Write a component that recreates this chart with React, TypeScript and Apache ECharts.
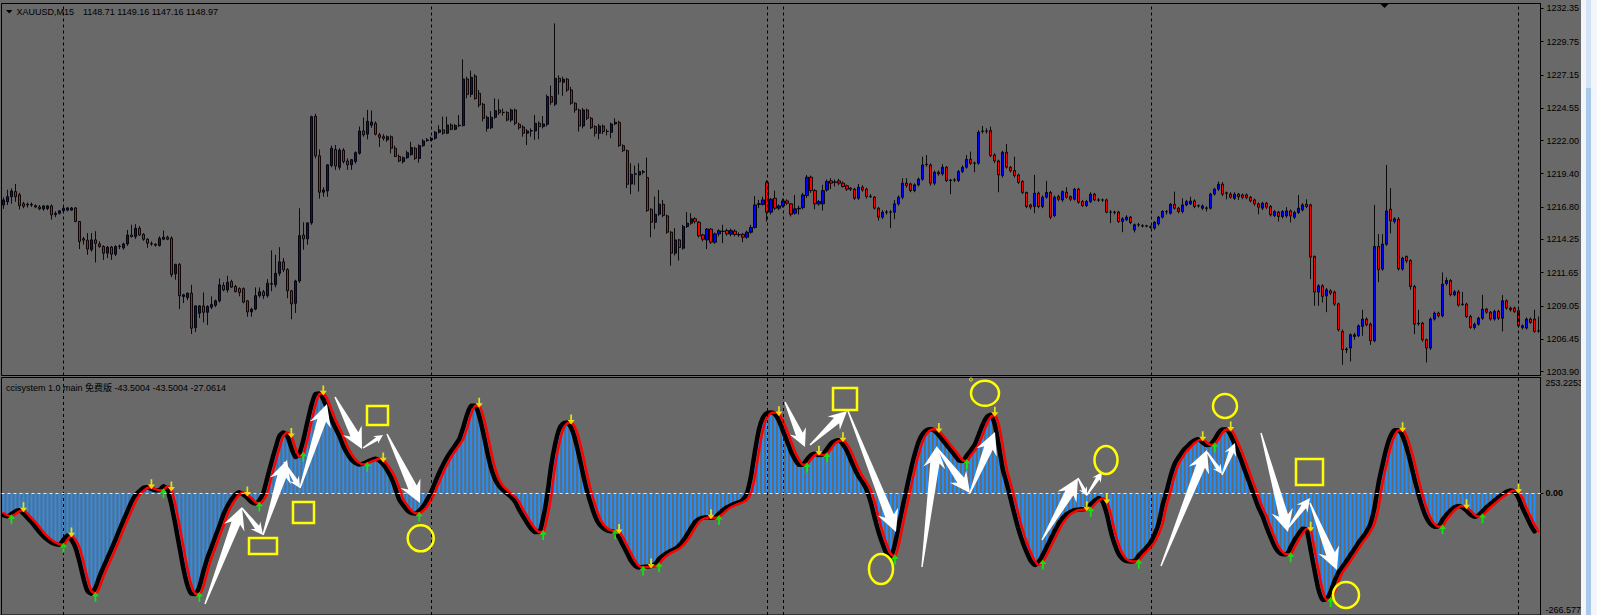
import React, { useEffect, useRef } from "react";
import * as echarts from "echarts";

// [open, high, low, close] per M15 bar
const candles: number[][] = [
  [1216.95,1217.55,1216.65,1217.35],[1217.2,1218.15,1216.95,1217.6],[1217.6,1218.25,1217.05,1218.05],[1218.0,1218.6,1217.2,1217.6],[1217.75,1217.9,1216.6,1216.9],
  [1217.05,1217.2,1216.7,1216.85],[1216.95,1217.15,1216.75,1217.0],[1217.0,1217.15,1216.8,1216.95],[1216.9,1217.0,1216.7,1216.8],[1216.8,1216.95,1216.55,1216.65],
  [1216.65,1216.95,1216.5,1216.88],[1216.68,1216.95,1216.55,1216.88],[1216.88,1217.0,1215.8,1216.18],[1216.2,1216.45,1216.0,1216.3],[1216.3,1216.55,1216.2,1216.5],
  [1216.5,1216.8,1216.4,1216.7],[1216.55,1216.8,1216.45,1216.72],[1216.55,1216.8,1216.5,1216.72],[1216.72,1216.8,1215.6,1215.66],[1215.66,1215.7,1213.5,1214.1],
  [1214.3,1214.45,1213.85,1214.2],[1214.2,1214.75,1213.05,1213.5],[1213.45,1214.75,1213.3,1214.22],[1214.22,1214.9,1212.45,1213.95],[1213.9,1214.1,1213.6,1213.7],
  [1213.7,1213.8,1212.65,1213.18],[1213.18,1213.75,1212.8,1213.65],[1213.65,1213.75,1212.65,1213.1],[1213.1,1213.8,1212.95,1213.7],[1213.7,1213.85,1213.5,1213.72],
  [1213.6,1214.0,1213.45,1213.9],[1213.9,1215.0,1213.75,1214.6],[1214.6,1215.4,1214.4,1214.48],[1214.48,1215.45,1214.3,1215.13],[1215.13,1215.3,1214.55,1214.6],
  [1214.65,1214.75,1214.15,1214.27],[1214.27,1214.35,1213.6,1213.96],[1213.93,1214.1,1213.75,1213.9],[1213.88,1213.95,1213.7,1213.8],[1213.78,1214.5,1213.7,1214.35],
  [1214.27,1214.95,1214.2,1214.43],[1214.43,1214.55,1214.2,1214.27],[1214.35,1214.5,1211.3,1211.5],[1211.56,1212.35,1211.1,1212.3],[1212.3,1212.4,1208.8,1209.85],
  [1209.78,1210.0,1209.27,1209.92],[1209.7,1210.1,1209.5,1210.05],[1210.05,1210.7,1206.85,1207.3],[1207.35,1209.1,1207.0,1209.05],[1208.48,1209.1,1208.1,1209.05],
  [1209.05,1210.1,1207.75,1208.55],[1208.55,1209.1,1207.55,1209.0],[1208.95,1209.8,1208.8,1209.15],[1209.1,1209.55,1208.95,1209.45],[1209.45,1211.2,1209.3,1210.7],
  [1210.65,1210.9,1210.2,1210.3],[1210.3,1211.4,1210.1,1210.9],[1210.95,1211.1,1210.45,1210.52],[1210.57,1210.7,1210.1,1210.18],[1210.4,1210.5,1209.8,1210.1],
  [1210.4,1210.5,1209.25,1209.35],[1209.45,1209.5,1208.2,1208.58],[1208.58,1208.9,1208.2,1208.8],[1208.8,1210.5,1208.7,1209.85],[1209.85,1210.5,1209.7,1210.15],
  [1210.15,1210.3,1209.6,1209.85],[1209.85,1211.15,1209.7,1210.83],[1210.8,1213.4,1210.2,1210.75],[1210.7,1213.05,1210.5,1211.6],[1211.6,1213.65,1211.4,1212.5],
  [1212.5,1212.8,1211.7,1211.88],[1211.9,1212.0,1209.65,1210.23],[1210.23,1210.3,1208.0,1209.2],[1209.25,1211.1,1208.5,1211.0],[1211.0,1216.7,1210.85,1214.55],
  [1214.6,1215.6,1213.45,1214.3],[1214.3,1215.6,1213.85,1215.55],[1215.55,1223.95,1215.4,1223.87],[1223.9,1224.1,1220.6,1220.8],[1220.8,1221.3,1217.45,1217.95],
  [1217.95,1218.35,1217.6,1218.13],[1218.05,1220.15,1217.6,1220.1],[1220.05,1221.6,1219.9,1221.4],[1221.3,1221.65,1219.7,1220.0],[1219.9,1221.4,1219.7,1221.25],
  [1221.25,1221.4,1220.2,1220.35],[1220.4,1220.6,1219.7,1220.1],[1220.1,1220.55,1219.7,1220.5],[1220.35,1221.15,1220.2,1221.05],[1221.0,1223.1,1220.9,1222.75],
  [1222.75,1223.8,1222.3,1222.45],[1222.5,1224.4,1222.1,1223.5],[1223.2,1224.35,1223.0,1223.45],[1223.35,1223.5,1222.4,1222.5],[1222.45,1222.6,1221.5,1222.25],
  [1222.3,1222.5,1222.0,1222.17],[1222.05,1222.4,1221.9,1222.3],[1222.3,1222.4,1221.0,1221.4],[1221.4,1221.6,1220.7,1220.75],[1220.75,1220.9,1220.3,1220.4],
  [1220.35,1220.75,1220.2,1220.66],[1220.66,1221.2,1220.55,1221.05],[1220.9,1221.9,1220.8,1221.45],[1221.4,1221.5,1220.48,1220.6],[1220.6,1221.7,1220.27,1221.6],
  [1221.6,1222.1,1221.5,1221.97],[1222.0,1222.2,1221.9,1222.05],[1222.05,1222.3,1221.95,1222.18],[1222.18,1222.75,1222.05,1222.65],[1222.65,1223.2,1222.55,1222.83],
  [1222.83,1223.87,1222.45,1222.57],[1222.57,1223.87,1222.5,1223.22],[1223.22,1223.35,1222.8,1222.88],[1222.88,1223.3,1222.8,1223.17],[1223.17,1224.0,1223.05,1223.2],
  [1223.17,1228.35,1223.1,1226.82],[1226.82,1227.0,1225.3,1225.62],[1225.62,1227.47,1225.4,1226.95],[1227.05,1227.2,1225.2,1225.28],[1225.7,1225.96,1224.6,1224.78],
  [1224.84,1224.95,1223.5,1223.74],[1222.96,1223.95,1222.7,1223.82],[1223.0,1224.3,1222.9,1223.82],[1223.82,1225.3,1223.7,1224.34],[1224.39,1225.23,1224.0,1224.18],
  [1224.2,1224.5,1223.95,1224.2],[1224.2,1224.3,1223.5,1223.6],[1223.6,1224.5,1223.45,1224.39],[1224.39,1224.5,1223.2,1223.35],[1223.27,1223.4,1222.85,1223.0],
  [1223.06,1223.2,1222.3,1222.57],[1222.57,1222.9,1221.65,1222.75],[1222.75,1222.95,1222.3,1222.77],[1222.75,1224.0,1222.05,1223.35],[1223.35,1223.5,1222.1,1223.09],
  [1223.09,1223.92,1222.95,1223.3],[1223.27,1225.6,1223.1,1225.44],[1225.44,1226.3,1224.8,1225.0],[1224.85,1231.17,1224.7,1226.87],[1226.87,1227.1,1225.6,1226.6],
  [1226.56,1227.0,1225.5,1226.8],[1226.8,1226.9,1225.8,1225.96],[1225.96,1226.2,1224.8,1224.92],[1224.92,1225.0,1224.18,1224.39],[1224.39,1224.5,1222.7,1223.14],
  [1223.14,1224.55,1222.95,1224.39],[1224.39,1224.5,1223.6,1223.74],[1223.74,1223.85,1222.9,1223.01],[1223.09,1223.2,1222.31,1222.57],[1222.57,1223.3,1222.1,1223.14],
  [1223.14,1223.25,1222.5,1222.7],[1222.7,1222.9,1222.4,1222.72],[1222.65,1223.4,1222.18,1223.3],[1223.3,1223.74,1223.2,1223.43],[1223.43,1223.55,1221.5,1221.6],
  [1221.6,1221.7,1221.1,1221.21],[1221.21,1221.3,1218.27,1218.58],[1218.6,1220.22,1217.8,1219.36],[1219.36,1220.04,1218.53,1219.4],[1219.3,1220.22,1218.0,1219.57],
  [1219.57,1219.7,1219.35,1219.52],[1219.1,1220.66,1216.4,1216.52],[1216.62,1216.7,1214.43,1215.6],[1215.6,1217.61,1215.06,1216.23],[1216.23,1218.13,1216.1,1217.01],
  [1217.01,1217.35,1216.0,1216.13],[1216.1,1216.2,1214.7,1214.82],[1214.82,1214.9,1212.2,1213.18],[1213.18,1215.14,1213.0,1214.22],[1214.22,1214.3,1212.6,1213.62],
  [1213.57,1215.4,1213.45,1215.27],[1215.27,1216.39,1215.15,1215.53],[1215.53,1216.31,1215.4,1215.87],[1215.87,1216.0,1215.5,1215.66],[1215.6,1215.7,1214.4,1214.54],
  [1214.61,1214.7,1214.1,1214.27],[1214.22,1215.15,1213.5,1215.06],[1215.06,1215.15,1213.9,1214.04],[1214.04,1214.8,1213.9,1214.69],[1214.69,1215.05,1214.5,1214.93],
  [1214.9,1215.4,1213.96,1214.88],[1214.95,1215.1,1214.55,1214.69],[1214.67,1215.1,1214.5,1214.95],[1214.9,1215.05,1214.5,1214.64],[1214.64,1214.8,1214.45,1214.62],
  [1214.66,1214.75,1214.04,1214.43],[1214.43,1214.95,1214.3,1214.82],[1214.82,1215.4,1214.7,1215.19],[1215.19,1217.66,1215.1,1216.96],[1217.0,1217.35,1216.7,1217.05],
  [1217.0,1217.6,1216.9,1217.35],[1218.73,1218.9,1215.66,1216.39],[1216.39,1217.5,1216.2,1217.4],[1217.48,1218.08,1216.55,1216.7],[1216.7,1217.0,1216.55,1216.88],
  [1216.88,1217.45,1216.75,1217.27],[1217.27,1217.4,1216.95,1217.09],[1217.04,1217.1,1216.05,1216.23],[1216.31,1217.74,1216.2,1216.65],[1216.65,1216.9,1216.2,1216.7],
  [1216.75,1217.9,1216.6,1217.74],[1217.69,1219.3,1217.5,1219.13],[1219.13,1219.25,1217.9,1218.08],[1218.08,1218.2,1216.62,1217.04],[1217.04,1217.35,1216.9,1217.22],
  [1217.04,1218.53,1216.52,1218.08],[1218.13,1218.95,1218.0,1218.79],[1218.84,1219.05,1218.2,1218.66],[1218.73,1218.95,1218.4,1218.75],[1218.84,1219.0,1218.5,1218.66],
  [1218.66,1218.8,1218.3,1218.4],[1218.45,1218.55,1218.05,1218.19],[1218.27,1218.35,1218.05,1218.19],[1218.19,1218.3,1217.35,1217.48],[1217.48,1218.6,1217.35,1218.34],
  [1218.34,1218.5,1218.0,1218.13],[1218.19,1218.3,1217.45,1217.61],[1217.63,1217.8,1217.5,1217.6],[1217.56,1217.65,1216.6,1216.7],[1216.7,1216.8,1215.74,1216.0],
  [1216.0,1216.55,1215.85,1216.39],[1216.39,1216.55,1216.2,1216.41],[1216.39,1216.55,1215.14,1216.4],[1216.39,1217.35,1215.84,1217.04],[1217.04,1217.7,1216.9,1217.56],
  [1217.56,1219.05,1217.4,1218.66],[1218.66,1219.05,1218.3,1218.47],[1218.6,1218.7,1217.95,1218.08],[1218.08,1218.65,1217.95,1218.53],[1218.53,1219.1,1218.4,1218.97],
  [1218.97,1220.74,1218.85,1220.09],[1220.12,1220.87,1219.95,1220.15],[1220.09,1220.2,1218.47,1218.66],[1218.66,1219.65,1218.5,1219.52],[1219.52,1219.65,1219.25,1219.39],
  [1219.39,1220.14,1219.25,1219.91],[1219.91,1220.0,1218.75,1218.87],[1218.87,1219.0,1217.8,1218.9],[1218.9,1219.05,1218.75,1218.92],[1218.87,1219.7,1218.75,1219.57],
  [1219.57,1220.05,1219.45,1219.91],[1219.91,1220.87,1219.8,1220.53],[1220.53,1221.13,1220.1,1220.22],[1220.22,1220.35,1219.52,1220.24],[1220.22,1222.8,1220.1,1222.65],
  [1222.72,1223.14,1222.55,1222.75],[1222.75,1222.95,1222.55,1222.73],[1222.78,1223.09,1220.7,1220.82],[1220.87,1221.0,1220.25,1220.4],[1220.4,1220.5,1217.95,1219.31],
  [1219.26,1221.2,1219.1,1221.08],[1221.08,1221.73,1219.8,1219.91],[1219.91,1220.0,1219.5,1219.62],[1219.65,1220.74,1219.1,1219.26],[1219.31,1219.4,1218.6,1218.73],
  [1218.79,1218.9,1217.8,1217.93],[1217.93,1218.0,1216.7,1216.83],[1216.96,1217.05,1216.6,1216.78],[1216.83,1219.31,1216.31,1217.87],[1217.87,1218.0,1216.7,1216.83],
  [1216.83,1217.7,1216.7,1217.56],[1217.56,1218.84,1217.45,1217.93],[1217.93,1218.05,1215.85,1216.0],[1216.13,1217.7,1216.0,1217.56],[1217.61,1217.75,1217.25,1217.4],
  [1217.35,1218.1,1217.2,1218.0],[1217.95,1218.34,1217.45,1217.56],[1217.61,1217.7,1217.25,1217.4],[1217.4,1218.3,1217.3,1218.19],[1218.19,1218.3,1217.05,1217.17],
  [1217.22,1217.35,1216.8,1216.91],[1216.91,1217.35,1216.8,1217.22],[1217.22,1217.95,1217.1,1217.8],[1217.8,1217.9,1217.25,1217.35],[1217.35,1217.5,1217.2,1217.33],
  [1217.35,1217.45,1217.2,1217.35],[1217.35,1217.45,1216.3,1216.39],[1216.39,1216.55,1215.53,1216.4],[1216.4,1216.5,1216.2,1216.38],[1216.39,1216.5,1215.55,1215.66],
  [1215.66,1216.0,1214.82,1215.87],[1215.79,1216.15,1215.7,1216.0],[1216.0,1216.1,1215.45,1215.58],[1215.0,1215.5,1214.8,1215.4],[1215.4,1215.55,1215.25,1215.39],
  [1215.33,1215.45,1215.2,1215.3],[1215.3,1215.4,1215.2,1215.32],[1215.25,1215.35,1215.1,1215.2],[1215.14,1215.7,1215.0,1215.6],[1215.47,1216.1,1215.35,1216.0],
  [1216.0,1216.55,1215.9,1216.44],[1216.44,1216.55,1216.2,1216.42],[1216.31,1217.1,1216.2,1217.01],[1217.01,1218.0,1216.6,1216.7],[1216.7,1216.8,1216.3,1216.44],
  [1216.44,1217.48,1216.3,1216.96],[1216.96,1217.35,1216.85,1217.22],[1217.04,1217.61,1216.95,1217.27],[1217.27,1217.4,1216.7,1216.83],[1216.88,1217.0,1216.75,1216.9],
  [1216.7,1217.0,1216.55,1216.88],[1216.7,1216.85,1216.44,1216.72],[1216.7,1217.9,1216.6,1217.8],[1217.8,1218.3,1217.7,1218.19],[1218.19,1218.79,1218.05,1218.58],
  [1218.58,1218.75,1217.65,1217.8],[1217.87,1218.0,1217.4,1217.9],[1217.8,1217.95,1217.45,1217.56],[1217.48,1217.95,1217.35,1217.8],[1217.8,1217.9,1217.35,1217.61],
  [1217.74,1217.85,1217.4,1217.56],[1217.74,1217.85,1217.4,1217.53],[1217.56,1217.65,1217.15,1217.27],[1217.35,1217.45,1216.9,1217.04],[1217.04,1217.15,1216.23,1216.78],
  [1216.7,1217.2,1216.55,1217.09],[1217.09,1217.2,1216.65,1216.78],[1216.83,1216.95,1216.05,1216.18],[1216.13,1216.55,1216.0,1216.44],[1216.39,1216.5,1215.66,1216.05],
  [1216.05,1216.55,1215.9,1216.44],[1216.1,1216.78,1215.95,1216.49],[1216.49,1216.6,1215.58,1216.1],[1215.99,1216.5,1215.85,1216.36],[1216.36,1217.74,1216.25,1216.7],
  [1216.57,1217.1,1216.45,1216.96],[1217.01,1217.4,1216.7,1216.83],[1216.96,1217.05,1211.14,1212.87],[1212.92,1213.0,1209.06,1210.13],[1210.13,1210.75,1209.06,1210.62],
  [1210.62,1210.75,1209.32,1209.79],[1209.84,1210.45,1208.56,1210.31],[1210.23,1210.35,1209.9,1210.05],[1210.13,1210.25,1209.05,1209.19],[1209.21,1209.3,1207.05,1207.18],
  [1207.05,1207.2,1204.44,1205.62],[1205.62,1205.8,1205.36,1205.68],[1205.75,1206.9,1204.7,1206.79],[1206.66,1206.95,1206.4,1206.79],[1206.71,1207.6,1206.6,1207.49],
  [1207.44,1208.75,1206.71,1208.02],[1208.02,1208.15,1207.45,1207.57],[1207.62,1207.75,1206.0,1206.32],[1206.32,1216.96,1206.2,1213.7],[1213.7,1214.67,1210.91,1211.88],
  [1211.93,1214.67,1211.8,1213.88],[1213.88,1220.09,1213.75,1216.49],[1216.62,1218.27,1214.74,1215.71],[1215.66,1216.0,1215.5,1215.87],[1215.84,1216.0,1211.82,1211.95],
  [1211.93,1212.9,1211.8,1212.79],[1212.92,1213.0,1212.4,1212.58],[1212.61,1212.7,1210.31,1210.57],[1210.57,1210.7,1206.84,1207.62],[1207.7,1208.75,1207.5,1207.65],
  [1207.7,1207.8,1206.25,1206.4],[1206.4,1206.5,1204.62,1205.75],[1205.75,1208.15,1205.6,1208.02],[1208.02,1208.6,1207.9,1208.48],[1208.48,1208.6,1208.15,1208.28],
  [1208.28,1211.67,1208.15,1210.75],[1210.8,1211.28,1210.65,1211.04],[1211.04,1211.15,1209.8,1209.92],[1209.92,1210.3,1209.8,1210.15],[1210.15,1210.3,1209.0,1209.11],
  [1209.16,1210.15,1209.05,1209.2],[1209.19,1209.3,1208.1,1208.22],[1208.22,1208.35,1207.25,1207.36],[1207.36,1207.75,1207.2,1207.62],[1207.62,1208.2,1207.5,1208.09],
  [1208.09,1209.92,1207.95,1208.8],[1208.8,1208.9,1208.45,1208.56],[1208.56,1208.65,1207.9,1208.02],[1208.02,1208.75,1207.9,1208.62],[1208.62,1208.75,1207.95,1208.09],
  [1208.09,1209.9,1207.05,1209.45],[1209.45,1209.55,1208.75,1208.88],[1208.88,1209.0,1208.6,1208.75],[1208.88,1209.0,1208.5,1208.62],[1208.67,1208.8,1207.35,1207.49],
  [1207.36,1207.6,1207.2,1207.49],[1207.31,1208.15,1207.2,1208.02],[1208.02,1208.15,1207.65,1207.75],[1208.02,1208.75,1206.95,1207.05],[1207.1,1208.22,1206.95,1207.08],
];

// ccisystem signal line (red), one value per bar
const cci: number[] = [
  -43.3,-48.4,-50.6,-45.5,-39.6,-37.4,-44.7,-54.3,-63.1,-74.1,
  -85.1,-94.6,-101.9,-107.8,-111.5,-112.9,-101.9,-92.4,-101.9,-118.8,
  -149.6,-186.2,-214.1,-219.9,-206.7,-182.6,-162.0,-142.2,-122.4,-101.9,
  -79.9,-59.4,-39.6,-19.1,-4.4,4.4,11.7,13.2,8.8,6.6,
  6.6,15.4,8.0,-25.0,-68.9,-116.6,-164.2,-200.9,-219.9,-220.7,
  -204.5,-171.6,-142.2,-118.8,-94.6,-71.9,-46.9,-28.6,-14.0,-3.0,
  2.2,-3.0,-10.3,-19.1,-22.8,-15.4,0.7,33.7,66.7,97.4,
  125.3,132.6,125.3,99.6,79.1,86.5,115.8,154.6,191.3,216.9,
  218.4,205.9,184.0,162.0,143.6,125.3,103.3,86.5,74.0,66.7,
  63.0,64.5,68.9,72.5,75.5,71.8,63.0,49.8,33.7,11.7,
  -14.0,-26.4,-37.4,-43.3,-44.7,-38.2,-28.6,-14.0,2.9,24.2,
  44.7,63.0,79.1,92.3,104.8,118.0,143.6,173.0,191.3,191.3,
  169.3,132.6,90.8,54.2,30.0,15.4,6.6,-0.8,-8.1,-19.1,
  -36.0,-50.6,-65.3,-77.7,-85.1,-85.1,-54.3,-6.6,59.3,107.0,
  140.0,152.4,154.6,143.6,118.0,81.3,41.0,4.4,-25.0,-50.6,
  -67.5,-76.3,-81.4,-83.6,-85.1,-96.8,-114.4,-131.2,-148.1,-159.1,
  -162.8,-161.3,-160.6,-159.8,-155.4,-143.7,-136.4,-130.5,-126.1,-121.7,
  -114.4,-104.1,-90.9,-76.3,-63.1,-56.5,-53.6,-52.8,-53.6,-52.1,
  -44.7,-36.7,-30.8,-26.4,-22.8,-19.8,-14.0,0.7,37.3,92.3,
  140.0,165.6,175.1,176.6,173.0,158.3,136.3,114.3,90.8,74.0,
  62.3,63.0,74.0,83.5,86.5,83.5,85.0,96.7,108.5,114.3,
  115.8,107.0,92.3,71.8,52.0,35.1,22.7,5.8,-21.3,-55.7,
  -87.3,-112.9,-133.4,-138.6,-111.5,-68.9,-27.2,13.2,52.0,86.5,
  114.3,130.4,138.5,140.0,136.3,126.8,115.8,104.8,93.8,82.8,
  71.8,70.3,82.8,93.8,107.0,129.0,151.0,167.1,171.5,149.5,
  103.3,52.0,20.5,-14.0,-49.1,-81.4,-107.8,-129.8,-148.1,-156.9,
  -149.6,-134.9,-117.3,-99.7,-82.1,-66.0,-54.3,-45.5,-40.4,-36.7,
  -36.0,-35.2,-33.8,-24.2,-16.2,-10.3,-19.1,-45.5,-83.6,-112.9,
  -133.4,-144.4,-148.8,-149.6,-148.1,-136.4,-127.6,-118.1,-107.1,-89.5,
  -65.3,-25.0,5.8,38.8,64.5,79.1,92.3,101.1,109.9,115.8,
  118.0,110.7,105.5,107.0,118.0,132.6,139.2,139.2,126.8,107.0,
  86.5,63.0,38.8,15.4,-8.8,-32.3,-50.6,-74.8,-96.8,-116.6,
  -129.1,-133.4,-133.4,-118.1,-101.9,-88.7,-77.7,-79.9,-123.9,-170.1,
  -211.9,-233.9,-231.7,-215.5,-192.1,-173.0,-160.6,-148.1,-134.9,-121.7,
  -107.8,-96.8,-83.6,-66.0,-30.8,22.7,63.0,99.6,125.3,137.8,
  137.8,125.3,99.6,66.7,30.0,-3.0,-32.3,-54.3,-67.5,-73.3,
  -72.6,-57.9,-46.9,-37.4,-30.8,-27.9,-30.8,-38.2,-46.9,-51.3,
  -48.4,-39.6,-30.8,-23.5,-16.2,-8.8,-3.0,2.9,5.8,2.9,
  -10.3,-32.3,-50.6,-68.9,-83.6,
];

const upSignals = [2,15,23,40,49,64,75,91,104,135,153,160,164,179,201,206,223,241,260,272,284,303,322,332,360,370];
const downSignals = [5,17,37,42,61,72,80,95,119,142,154,162,177,194,204,210,234,248,271,276,300,307,327,350,366,379];
const separators = [15,107,191,195,287,379];
const priceTicks = [1232.35,1229.75,1227.15,1224.55,1222.0,1219.4,1216.8,1214.25,1211.65,1209.05,1206.45,1203.9];
const priceRange = [1203.6, 1232.73];
const cciTicks = [253.2253, 0, -266.5772];
const cciLevels = [0];
const symbolTitle = "XAUUSD,M15";
const legendValues = ["1148.71", "1149.16", "1147.16", "1148.97"];
const indicatorTitle = "ccisystem 1.0 main 免费版";
const indicatorValues = ["-43.5004", "-43.5004", "-27.0614"];

// hand-drawn annotations (pixel positions on the screenshot)
const noteArrows: number[][] = [
  [205,604,242,507],[242,508,263,535],[263,535,287,460],[284,462,300,488],[300,488,327,404],
  [335,397,362,449],[363,448,383,435],[387,434,420,503],
  [785,402,805,447],[810,445,847,411],[848,411,896,532],[922,567,937,446],[937,448,970,493],
  [970,493,995,432],[1042,540,1078,478],[1078,478,1087,496],[1087,495,1102,472],
  [1161,566,1207,450],[1207,452,1222,474],[1222,475,1235,443],
  [1261,433,1288,532],[1288,528,1310,498],[1310,503,1337,570],
];
const noteBoxes: number[][] = [[249,538,28,16],[293,502,21,21],[367,406,21,19],[833,388,24,22],[1296,459,27,26]];
const noteRings: number[][] = [[420.7,538.3,13,13],[985,393.3,14,12.5],[881,569,12,15],[1106,460,11.5,14],[1225,406,12,12],[1346,595,13,13]];

const FONT = "'Liberation Sans', Arial, sans-serif";

function arrowPoints(x1: number, y1: number, x2: number, y2: number) {
  const dx = x2 - x1, dy = y2 - y1;
  const L = Math.hypot(dx, dy);
  const ux = dx / L, uy = dy / L;
  const nx = -uy, ny = ux;
  const hl = Math.max(9, Math.min(22, L * 0.36));
  const hw = hl * 1.0;
  const sw = hw * 0.42;
  const bx = x2 - ux * hl, by = y2 - uy * hl;
  const cx = x2 - ux * hl * 0.78, cy = y2 - uy * hl * 0.78;
  return [
    [x1 + nx * 0.7, y1 + ny * 0.7],
    [cx + nx * sw / 2, cy + ny * sw / 2],
    [bx + nx * hw / 2, by + ny * hw / 2],
    [x2, y2],
    [bx - nx * hw / 2, by - ny * hw / 2],
    [cx - nx * sw / 2, cy - ny * sw / 2],
    [x1 - nx * 0.7, y1 - ny * 0.7],
  ];
}

export default function App() {
  const ref = useRef<HTMLDivElement>(null);

  useEffect(() => {
    document.body.style.margin = "0";
    const chart = echarts.init(ref.current as HTMLDivElement, null, { renderer: "svg" });
    const categories = candles.map((_, i) => String(i));
    const ohlc = candles.map(([o, h, l, c]) => [o, c, l, h]);
    const mainLine = cci.slice(1);

    const sepLines = separators.map((i) => ({ xAxis: i }));
    const textStyle = (text: string, x: number, y: number, extra: any = {}) => ({
      type: "text",
      x,
      y,
      z: 50,
      style: { text, fill: "#000", fontSize: 9, fontFamily: FONT, verticalAlign: "middle", align: "left", ...extra },
    });

    const graphic: any[] = [
      { type: "polygon", z: 50, shape: { points: [[6, 10], [12.5, 10], [9.25, 13.5]] }, style: { fill: "#000" } },
      textStyle(symbolTitle, 16.5, 12),
      textStyle(legendValues.join(" "), 83, 12),
      textStyle(indicatorTitle + " " + indicatorValues.join(" "), 6, 387.5, {
        fontFamily: "'Liberation Sans', 'Noto Sans CJK SC', sans-serif",
      }),
      { type: "polygon", z: 50, shape: { points: [[1380, 3.5], [1389, 3.5], [1384.5, 8]] }, style: { fill: "#000" } },
      ...noteArrows.map(([a, b, c, d]) => ({
        type: "polygon",
        z: 60,
        shape: { points: arrowPoints(a, b, c, d) },
        style: { fill: "#ffffff" },
      })),
      ...noteBoxes.map(([x, y, w, h]) => ({
        type: "rect",
        z: 61,
        shape: { x, y, width: w, height: h },
        style: { fill: "none", stroke: "#ffff00", lineWidth: 2.5 },
      })),
      ...noteRings.map(([cx, cy, rx, ry]) => ({
        type: "ellipse",
        z: 61,
        shape: { cx, cy, rx, ry },
        style: { fill: "none", stroke: "#ffff00", lineWidth: 2.5 },
      })),
      { type: "circle", z: 61, shape: { cx: 971, cy: 379.5, r: 1.5 }, style: { fill: "none", stroke: "#ffff00", lineWidth: 1 } },
      { type: "rect", z: 70, shape: { x: 1581, y: 0, width: 16, height: 615 }, style: { fill: "#f2f5f9" } },
      { type: "rect", z: 71, shape: { x: 1586, y: 0, width: 5, height: 615 }, style: { fill: "#a9c8ea" } },
      { type: "rect", z: 72, shape: { x: 1586, y: 0, width: 5, height: 88 }, style: { fill: "#d4e4f6" } },
    ];

    const axisCommon = {
      type: "category",
      data: categories,
      boundaryGap: true,
      axisLine: { show: false },
      axisTick: { show: false },
      axisLabel: { show: false },
      splitLine: { show: false },
    };

    const option: any = {
      animation: false,
      backgroundColor: "#696969",
      grid: [
        { left: 1.5, top: 3.5, width: 1539, height: 372, show: true, borderColor: "#000", borderWidth: 1, backgroundColor: "transparent" },
        { left: 1.5, top: 377.5, width: 1539, height: 238.5, show: true, borderColor: "#000", borderWidth: 1, backgroundColor: "transparent" },
      ],
      xAxis: [
        { ...axisCommon, gridIndex: 0 },
        { ...axisCommon, gridIndex: 1 },
      ],
      yAxis: [
        {
          type: "value",
          gridIndex: 0,
          position: "right",
          min: priceRange[0],
          max: priceRange[1],
          splitLine: { show: false },
          axisLine: { show: true, lineStyle: { color: "#000", width: 1 } },
          axisTick: { show: true, customValues: priceTicks, length: 3, lineStyle: { color: "#000" } },
          axisLabel: {
            customValues: priceTicks,
            formatter: (v: number) => v.toFixed(2),
            color: "#000",
            fontSize: 9,
            fontFamily: FONT,
            margin: 6,
          },
        },
        {
          type: "value",
          gridIndex: 1,
          position: "right",
          min: cciTicks[2],
          max: cciTicks[0],
          splitLine: { show: false },
          axisLine: { show: true, lineStyle: { color: "#000", width: 1 } },
          axisTick: { show: true, customValues: [0], length: 3, lineStyle: { color: "#000" } },
          axisLabel: {
            customValues: cciTicks,
            formatter: (v: number) =>
              v === 0 ? "{z|0.00}" : v > 0 ? "{t|" + v.toFixed(4) + "}" : "{b|" + v.toFixed(4) + "}",
            margin: 5,
            rich: {
              z: { color: "#000", fontSize: 9, fontFamily: FONT, fontWeight: "bold" },
              t: { color: "#000", fontSize: 9, fontFamily: FONT, padding: [11, 0, 0, 0] },
              b: { color: "#000", fontSize: 9, fontFamily: FONT, padding: [0, 0, 11, 0] },
            },
          },
        },
      ],
      graphic,
      series: [
        {
          type: "candlestick",
          xAxisIndex: 0,
          yAxisIndex: 0,
          data: ohlc,
          barWidth: 2.6,
          itemStyle: {
            color: "#0000ff",
            color0: "#ff0000",
            borderColor: "#000000",
            borderColor0: "#000000",
            borderWidth: 0.9,
          },
          markLine: {
            silent: true,
            symbol: ["none", "none"],
            label: { show: false },
            lineStyle: { color: "#000", type: [3, 3], width: 1 },
            data: sepLines,
          },
        },
        {
          type: "bar",
          xAxisIndex: 1,
          yAxisIndex: 1,
          data: mainLine,
          barWidth: 2,
          itemStyle: { color: "#1e90ff" },
          markLine: {
            silent: true,
            symbol: ["none", "none"],
            label: { show: false },
            lineStyle: { color: "#000", type: [3, 3], width: 1 },
            data: [
              ...sepLines,
              ...cciLevels.map((v) => ({ yAxis: v, lineStyle: { color: "#e8e8e8", type: [3, 3], width: 1 } })),
            ],
          },
        },
        {
          type: "line",
          xAxisIndex: 1,
          yAxisIndex: 1,
          data: mainLine,
          showSymbol: false,
          symbol: "none",
          smooth: 0.2,
          lineStyle: { color: "#000", width: 4.5, join: "round", cap: "round" },
        },
        {
          type: "line",
          xAxisIndex: 1,
          yAxisIndex: 1,
          data: cci,
          showSymbol: false,
          symbol: "none",
          smooth: 0.2,
          lineStyle: { color: "#ff0000", width: 2.5, join: "round", cap: "round" },
        },
        {
          type: "scatter",
          xAxisIndex: 1,
          yAxisIndex: 1,
          data: upSignals.map((i) => [i, cci[i]]),
          symbol: "path://M4,0 L8,5 L5,5 L5,11 L3,11 L3,5 L0,5 Z",
          symbolSize: [7, 10],
          symbolOffset: [0, 3],
          itemStyle: { color: "#00ff00" },
          z: 5,
        },
        {
          type: "scatter",
          xAxisIndex: 1,
          yAxisIndex: 1,
          data: downSignals.map((i) => [i, cci[i]]),
          symbol: "path://M3,0 L5,0 L5,6 L8,6 L4,11 L0,6 L3,6 Z",
          symbolSize: [7, 10],
          symbolOffset: [0, -3],
          itemStyle: { color: "#ffff00" },
          z: 5,
        },
      ],
    };

    chart.setOption(option);
    return () => chart.dispose();
  }, []);

  return <div ref={ref} style={{ width: 1597, height: 615 }} />;
}
